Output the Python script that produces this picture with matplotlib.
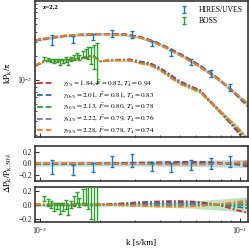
import matplotlib
matplotlib.use("Agg")
import matplotlib.pyplot as plt
import numpy as np

plt.rcParams["font.family"] = ["Liberation Serif", "DejaVu Serif"]
plt.rcParams["mathtext.fontset"] = "stix"
plt.rcParams["font.size"] = 5.5

# HIRES/UVES data
k_hires = [0.01152, 0.01457, 0.01835, 0.0230, 0.0289, 0.0362, 0.0453, 0.0569, 0.0714, 0.0891]
pk_hires = [0.03178, 0.03173, 0.03444, 0.03814, 0.03707, 0.02853, 0.02185, 0.01675, 0.01188, 0.00792]
err_hires = [0.00440, 0.00325, 0.00315, 0.00352, 0.00388, 0.00228, 0.00200, 0.00154, 0.00119, 0.00077]
res_hires = [-0.06, -0.12, -0.07, 0.03, 0.05, -0.06, -0.07, -0.02, 0.0, 0.03]
rerr_hires = [0.13, 0.09, 0.085, 0.095, 0.11, 0.075, 0.085, 0.09, 0.10, 0.10]

# BOSS data
k_boss = [0.01051, 0.01093, 0.01135, 0.01179, 0.01216, 0.01259, 0.01299, 0.01345, 0.01385, 0.01429,
          0.01479, 0.01526, 0.01573, 0.01636, 0.01693, 0.01744, 0.01799, 0.01856, 0.01921]
pk_boss = [0.01842, 0.01782, 0.01740, 0.01698, 0.01731, 0.01687, 0.01732, 0.01792, 0.01658, 0.01807,
           0.01909, 0.02005, 0.01883, 0.02096, 0.02158, 0.02190, 0.02071, 0.02033, 0.01909]
err_boss = [0.00068, 0.00087, 0.00096, 0.00096, 0.00088, 0.00142, 0.00098, 0.00108, 0.00135, 0.00099,
            0.00127, 0.00137, 0.00128, 0.00187, 0.00267, 0.00352, 0.00493, 0.00684, 0.01000]
res_boss = [0.09, 0.03, 0.00, -0.03, -0.02, -0.05, -0.03, 0.00, -0.08, 0.00,
            0.05, 0.10, 0.03, 0.12, 0.13, 0.12, 0.05, 0.04, 0.05]
rerr_boss = [0.04, 0.05, 0.055, 0.055, 0.05, 0.08, 0.055, 0.06, 0.075, 0.055,
             0.07, 0.075, 0.07, 0.10, 0.14, 0.18, 0.25, 0.35, 0.55]

# median model, HIRES range
k_mod_h = [0.00944, 0.01122, 0.01334, 0.01585, 0.01884, 0.02239, 0.02661, 0.03162,
           0.03758, 0.04467, 0.05309, 0.06310, 0.07499, 0.08913, 0.1096]
pk_mod_h = [0.03117, 0.03351, 0.03553, 0.03659, 0.03713, 0.03713, 0.03659, 0.03401,
            0.02940, 0.02397, 0.01899, 0.01461, 0.01091, 0.00769, 0.00483]
band_h = [0.045, 0.045, 0.045, 0.045, 0.045, 0.045, 0.045, 0.045,
          0.045, 0.05, 0.05, 0.055, 0.06, 0.065, 0.075]
res_mod_h = {
    "2": [-0.01, -0.01, -0.01, -0.005, 0, 0.005, 0.01, 0.015, 0.02, 0.025, 0.03, 0.03, 0.02, 0.0, -0.05],
    "16": [-0.005, -0.005, -0.005, 0, 0, 0.003, 0.005, 0.008, 0.01, 0.012, 0.015, 0.015, 0.01, 0.0, -0.02],
    "50": [0] * 15,
    "84": [0.003, 0.003, 0.003, 0, 0, -0.002, -0.004, -0.006, -0.008, -0.01, -0.01, -0.01, -0.005, 0.005, 0.02],
    "98": [0.006, 0.006, 0.005, 0, 0, -0.004, -0.008, -0.01, -0.013, -0.016, -0.018, -0.018, -0.01, 0.01, 0.04],
}

# median model, BOSS range
k_mod_b = [0.00944, 0.0106, 0.0130, 0.01585, 0.01778, 0.0186, 0.01995, 0.0232, 0.0282, 0.0316, 0.0355,
           0.0398, 0.0447, 0.0501, 0.0562, 0.0631, 0.0708, 0.0794, 0.0891, 0.0966, 0.1096]
pk_mod_b = [0.0150, 0.0171, 0.0176, 0.0183, 0.0197, 0.0196, 0.0170, 0.0175, 0.0175, 0.0163, 0.0155,
            0.0134, 0.0110, 0.0091, 0.0080, 0.0071, 0.0053, 0.0040, 0.0030, 0.00245, 0.0017]
band_b = [0.025, 0.025, 0.025, 0.025, 0.025, 0.025, 0.025, 0.025, 0.03, 0.03, 0.035,
          0.035, 0.04, 0.045, 0.05, 0.06, 0.07, 0.08, 0.09, 0.1, 0.11]
res_mod_b = {
    "2": [-0.01, -0.01, -0.008, -0.005, -0.003, -0.002, 0.0, 0.01, 0.025, 0.035, 0.04,
          0.045, 0.05, 0.05, 0.045, 0.035, 0.015, -0.01, -0.05, -0.08, -0.12],
    "16": [-0.005, -0.005, -0.004, -0.003, -0.002, -0.001, 0, 0.005, 0.012, 0.017, 0.02,
           0.022, 0.025, 0.025, 0.022, 0.017, 0.008, -0.005, -0.02, -0.035, -0.05],
    "50": [0] * 21,
    "84": [0.003, 0.003, 0.003, 0.002, 0.001, 0.001, 0, -0.004, -0.008, -0.01, -0.012,
           -0.014, -0.015, -0.015, -0.013, -0.01, -0.004, 0.004, 0.012, 0.02, 0.03],
    "98": [0.006, 0.006, 0.005, 0.004, 0.002, 0.001, 0, -0.007, -0.015, -0.02, -0.024,
           -0.027, -0.03, -0.03, -0.026, -0.02, -0.008, 0.008, 0.025, 0.04, 0.06],
}

quantiles = ["2", "16", "50", "84", "98"]
gammas = [1.84, 2.01, 2.13, 2.22, 2.28]
fbars = [0.82, 0.81, 0.80, 0.79, 0.78]
t4s = [0.94, 0.83, 0.78, 0.76, 0.74]
colors = ["#d62728", "#1f77b4", "#2ca02c", "#9467bd", "#ff7f0e"]

fig = plt.figure(figsize=(2.49, 2.5), dpi=100)
ax1 = fig.add_axes([0.1406, 0.452, 0.855, 0.544])
ax2 = fig.add_axes([0.1406, 0.276, 0.855, 0.140])
ax3 = fig.add_axes([0.1406, 0.112, 0.855, 0.142])

dash = (0, (3.2, 1.6))
dashdot = (0, (3.2, 1.2, 1.0, 1.2))

kh = np.array(k_mod_h)
kb = np.array(k_mod_b)
ph = np.array(pk_mod_h)
pb = np.array(pk_mod_b)

# bands
ax1.fill_between(kh, ph * (1 - np.array(band_h)), ph * (1 + np.array(band_h)),
                 color="#1f77b4", alpha=0.3, lw=0)
ax1.fill_between(kb, pb * (1 - np.array(band_b)), pb * (1 + np.array(band_b)),
                 color="#2ca02c", alpha=0.3, lw=0)
ax2.fill_between(kh, -np.array(band_h), band_h, color="#1f77b4", alpha=0.3, lw=0)
ax3.fill_between(kb, -np.array(band_b), band_b, color="#2ca02c", alpha=0.3, lw=0)

line_handles = []
line_labels = []
for q, g, f, t, c in zip(quantiles, gammas, fbars, t4s, colors):
    lab = (r"$\gamma_{%s\%%} = %.2f$, $\bar{F} = %.2f$, $T_4 = %.2f$" % (q, g, f, t))
    rh = np.array(res_mod_h[q])
    rb = np.array(res_mod_b[q])
    ln, = ax1.plot(kh, ph * (1 + rh), color=c, lw=1.3, ls=dash)
    ax1.plot(kb, pb * (1 + rb), color=c, lw=1.3, ls=dashdot)
    ax2.plot(kh, rh, color=c, lw=1.3, ls=dash)
    ax3.plot(kb, rb, color=c, lw=1.3, ls=dashdot)
    line_handles.append(ln)
    line_labels.append(lab)

eb_kw = dict(fmt="none", capsize=1.6, elinewidth=1.0, capthick=1.0, zorder=5)
h1 = ax1.errorbar(k_hires, pk_hires, yerr=err_hires, color="#1f77b4", label="HIRES/UVES", **eb_kw)
h2 = ax1.errorbar(k_boss, pk_boss, yerr=err_boss, color="#2ca02c", label="BOSS", **eb_kw)
ax2.errorbar(k_hires, res_hires, yerr=rerr_hires, color="#1f77b4", **eb_kw)
ax3.errorbar(k_boss, res_boss, yerr=rerr_boss, color="#2ca02c", **eb_kw)

for ax in (ax1, ax2, ax3):
    ax.set_xscale("log")
    ax.set_xlim(0.00944, 0.1096)
    for s in ax.spines.values():
        s.set_color("#333333")
        s.set_linewidth(1.2)
    ax.tick_params(which="both", direction="in", colors="#333333", labelcolor="#222222",
                   labelsize=5.5, top=False, right=False, pad=2)
    ax.tick_params(which="major", length=3, width=0.8)
    ax.tick_params(which="minor", length=1.6, width=0.6)

ax1.set_yscale("log")
ax1.set_ylim(0.0019, 0.097)
ax1.tick_params(axis="x", labelbottom=False)
ax2.tick_params(axis="x", labelbottom=False)
ax2.set_ylim(-0.31, 0.31)
ax3.set_ylim(-0.25, 0.26)
for ax in (ax2, ax3):
    ax.set_yticks([-0.2, 0.0, 0.2])
    ax.set_yticklabels(["\u22120.2", "0.0", "0.2"])

ax1.text(0.035, 0.94, "z=2.2", transform=ax1.transAxes, fontsize=5, fontweight="bold")

leg1 = ax1.legend(handles=[h1, h2], loc="upper right", frameon=False, fontsize=5.5,
                  labelspacing=0.35, handlelength=1.0, handletextpad=1.4,
                  borderaxespad=0.3)
ax1.add_artist(leg1)
ax1.legend(line_handles, line_labels, loc="lower left", frameon=False, fontsize=5.2,
           labelspacing=0.2, handlelength=2.4, handletextpad=1.2, borderaxespad=0.0,
           borderpad=0.25)

fig.text(0.032, 0.71, r"$\mathrm{kP_k/\pi}$", rotation=90, ha="center", va="center", fontsize=6.5)
fig.text(0.032, 0.31, r"$\mathrm{\Delta P_k/P_{k,50\%}}$", rotation=90, ha="center", va="center", fontsize=6.5)
fig.text(0.568, 0.028, "k [s/km]", ha="center", va="center", fontsize=6.5)

fig.savefig("out.png", dpi=100)
